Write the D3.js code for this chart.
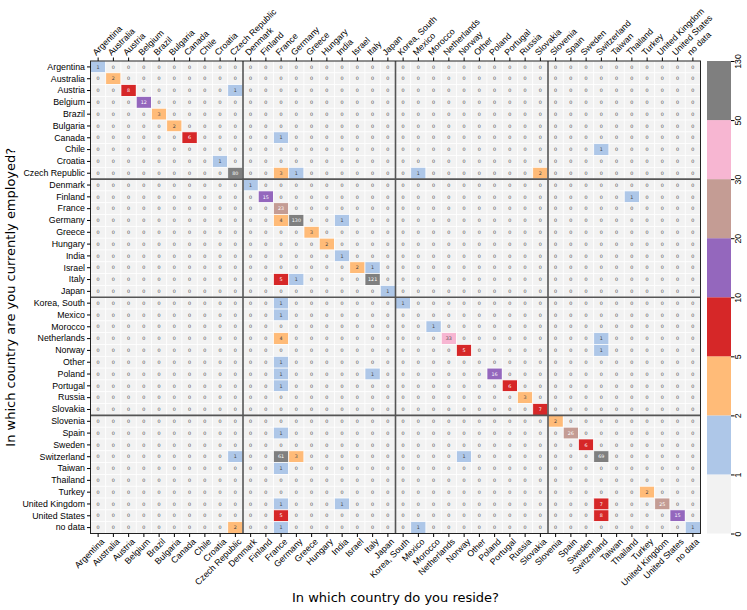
<!DOCTYPE html>
<html>
<head>
<meta charset="utf-8">
<script src="https://cdn.jsdelivr.net/npm/d3@7"></script>
<style>
  body { margin: 0; background: #fff; }
  svg { font-family: "DejaVu Sans", sans-serif; }
</style>
</head>
<body>
<svg id="chart" width="747" height="610"></svg>
<script>
// countries, same order on both axes
var countries = ["Argentina", "Australia", "Austria", "Belgium", "Brazil", "Bulgaria", "Canada", "Chile",
	"Croatia", "Czech Republic", "Denmark", "Finland", "France", "Germany", "Greece", "Hungary", "India",
	"Israel", "Italy", "Japan", "Korea, South", "Mexico", "Morocco", "Netherlands", "Norway", "Other",
	"Poland", "Portugal", "Russia", "Slovakia", "Slovenia", "Spain", "Sweden", "Switzerland", "Taiwan",
	"Thailand", "Turkey", "United Kingdom", "United States", "no data"];

// non-zero cells: [employed in, reside in, count]
var counts = [
	["Argentina", "Argentina", 1], ["Australia", "Australia", 2], ["Austria", "Austria", 8],
	["Austria", "Czech Republic", 1], ["Belgium", "Belgium", 12], ["Brazil", "Brazil", 3],
	["Bulgaria", "Bulgaria", 2], ["Canada", "Canada", 6], ["Canada", "France", 1],
	["Chile", "Switzerland", 1], ["Croatia", "Croatia", 1], ["Czech Republic", "Czech Republic", 80],
	["Czech Republic", "France", 3], ["Czech Republic", "Germany", 1], ["Czech Republic", "Mexico", 1],
	["Czech Republic", "Slovakia", 2], ["Denmark", "Denmark", 1], ["Finland", "Finland", 15],
	["Finland", "Thailand", 1], ["France", "France", 23], ["Germany", "France", 4],
	["Germany", "Germany", 130], ["Germany", "India", 1], ["Greece", "Greece", 3],
	["Hungary", "Hungary", 2], ["India", "India", 1], ["Israel", "Israel", 2], ["Israel", "Italy", 1],
	["Italy", "France", 5], ["Italy", "Germany", 1], ["Italy", "Italy", 121], ["Japan", "Japan", 1],
	["Korea, South", "France", 1], ["Korea, South", "Korea, South", 1], ["Mexico", "France", 1],
	["Morocco", "Morocco", 1], ["Netherlands", "France", 4], ["Netherlands", "Netherlands", 33],
	["Netherlands", "Switzerland", 1], ["Norway", "Norway", 5], ["Norway", "Switzerland", 1],
	["Other", "France", 1], ["Poland", "France", 1], ["Poland", "Italy", 1], ["Poland", "Poland", 16],
	["Portugal", "France", 1], ["Portugal", "Portugal", 6], ["Russia", "Russia", 3],
	["Slovakia", "Slovakia", 7], ["Slovenia", "Slovenia", 2], ["Spain", "France", 1],
	["Spain", "Spain", 26], ["Sweden", "Sweden", 6], ["Switzerland", "Czech Republic", 1],
	["Switzerland", "France", 61], ["Switzerland", "Germany", 3], ["Switzerland", "Norway", 1],
	["Switzerland", "Switzerland", 69], ["Taiwan", "France", 1], ["Turkey", "Turkey", 2],
	["United Kingdom", "France", 1], ["United Kingdom", "India", 1], ["United Kingdom", "Switzerland", 7],
	["United Kingdom", "United Kingdom", 25], ["United States", "France", 5],
	["United States", "Switzerland", 8], ["United States", "United States", 15],
	["no data", "Czech Republic", 2], ["no data", "France", 1], ["no data", "Mexico", 1],
	["no data", "no data", 1]
];

// colour bins (boundaries of the colorbar)
var bounds = [0, 1, 2, 5, 10, 20, 30, 50, 130];
var binColors = ["#f2f2f2", "#aec7e8", "#ffbb78", "#d62728", "#9467bd", "#c49c94", "#f7b6d2", "#7f7f7f"];

// note: "top" is taken by window.top, so prefix these
var plotLeft = 90.5, plotRight = 700.5, plotTop = 61, plotBottom = 533.5;
var LABEL_SIZE = "8.8px";

var svg = d3.select("#chart");

var x = d3.scaleBand().domain(countries).range([plotLeft, plotRight]);
var y = d3.scaleBand().domain(countries).range([plotTop, plotBottom]);
var color = d3.scaleThreshold().domain(bounds.slice(1, -1)).range(binColors);

// full matrix, zeros included
var lookup = {};
counts.forEach(function(c) { lookup[c[0] + "|" + c[1]] = c[2]; });
var cells = [];
countries.forEach(function(r) {
	countries.forEach(function(c) {
		cells.push({ row: r, col: c, value: lookup[r + "|" + c] || 0 });
	});
});

var grid = svg.append("g").attr("id", "cells");

grid.selectAll("rect")
	.data(cells)
	.enter()
	.append("rect")
	.attr("x", function(d) { return x(d.col); })
	.attr("y", function(d) { return y(d.row); })
	.attr("width", x.bandwidth())
	.attr("height", y.bandwidth())
	.style("fill", function(d) { return color(d.value); })
	.style("stroke", "#fff")
	.style("stroke-width", 0.7);

grid.selectAll("text")
	.data(cells)
	.enter()
	.append("text")
	.attr("x", function(d) { return x(d.col) + x.bandwidth() / 2; })
	.attr("y", function(d) { return y(d.row) + y.bandwidth() / 2; })
	.attr("dy", "0.35em")
	.attr("text-anchor", "middle")
	.style("font-size", "4.8px")
	.style("fill", function(d) {
		var v = d.value;
		return (v >= 5 && v < 30) || v >= 50 ? "#fff" : "#444";
	})
	.text(function(d) { return d.value; });

// thick separators every 10 countries
var seps = [10, 20, 30];
svg.selectAll(".vsep")
	.data(seps)
	.enter()
	.append("line")
	.attr("x1", function(d) { return x(countries[d]); })
	.attr("x2", function(d) { return x(countries[d]); })
	.attr("y1", plotTop).attr("y2", plotBottom)
	.style("stroke", "#555").style("stroke-width", 1.6);
svg.selectAll(".hsep")
	.data(seps)
	.enter()
	.append("line")
	.attr("y1", function(d) { return y(countries[d]); })
	.attr("y2", function(d) { return y(countries[d]); })
	.attr("x1", plotLeft).attr("x2", plotRight)
	.style("stroke", "#555").style("stroke-width", 1.6);

svg.append("rect")
	.attr("x", plotLeft).attr("y", plotTop)
	.attr("width", plotRight - plotLeft).attr("height", plotBottom - plotTop)
	.style("fill", "none").style("stroke", "#222").style("stroke-width", 1);

// axes
var yAxis = svg.append("g")
	.attr("transform", "translate(" + plotLeft + ",0)")
	.call(d3.axisLeft(y).tickSize(3.5).tickPadding(2));
yAxis.select(".domain").remove();
yAxis.selectAll("text").style("font-size", LABEL_SIZE).style("fill", "#000");

var xTop = svg.append("g")
	.attr("transform", "translate(0," + plotTop + ")")
	.call(d3.axisTop(x).tickSize(3.5));
xTop.select(".domain").remove();
xTop.selectAll("text")
	.style("font-size", LABEL_SIZE).style("fill", "#000")
	.attr("text-anchor", "start")
	.attr("x", 0).attr("y", 0).attr("dy", 0)
	.attr("transform", "translate(-2,-5) rotate(-45)");

var xBottom = svg.append("g")
	.attr("transform", "translate(0," + plotBottom + ")")
	.call(d3.axisBottom(x).tickSize(3.5));
xBottom.select(".domain").remove();
xBottom.selectAll("text")
	.style("font-size", LABEL_SIZE).style("fill", "#000")
	.attr("text-anchor", "end")
	.attr("x", 0).attr("y", 0).attr("dy", "0.6em")
	.attr("transform", "translate(3,5) rotate(-45)");

// axis titles
svg.append("text")
	.attr("x", (plotLeft + plotRight) / 2)
	.attr("y", 602)
	.attr("text-anchor", "middle")
	.style("font-size", "13px")
	.text("In which country do you reside?");

svg.append("text")
	.attr("transform", "translate(15," + (plotTop + plotBottom) / 2 + ") rotate(-90)")
	.attr("text-anchor", "middle")
	.style("font-size", "13px")
	.text("In which country are you currently employed?");

// colorbar with evenly spaced bins
var cbX = 707, cbW = 24;
var cb = d3.scalePoint().domain(bounds).range([plotBottom, plotTop]);
var cbar = svg.append("g").attr("id", "colorbar");
cbar.selectAll("rect")
	.data(binColors)
	.enter()
	.append("rect")
	.attr("x", cbX)
	.attr("y", function(d, i) { return cb(bounds[i + 1]); })
	.attr("width", cbW)
	.attr("height", function(d, i) { return cb(bounds[i]) - cb(bounds[i + 1]); })
	.style("fill", function(d) { return d; });

var cbAxis = svg.append("g")
	.attr("transform", "translate(" + (cbX + cbW) + ",0)")
	.call(d3.axisRight(cb).tickSize(3.5));
cbAxis.select(".domain").remove();
cbAxis.selectAll("text")
	.style("font-size", LABEL_SIZE).style("fill", "#000")
	.attr("text-anchor", "middle")
	.attr("x", 0).attr("dy", 0)
	.attr("transform", "translate(10,0) rotate(-90)")
	.attr("y", 0);
</script>
</body>
</html>
